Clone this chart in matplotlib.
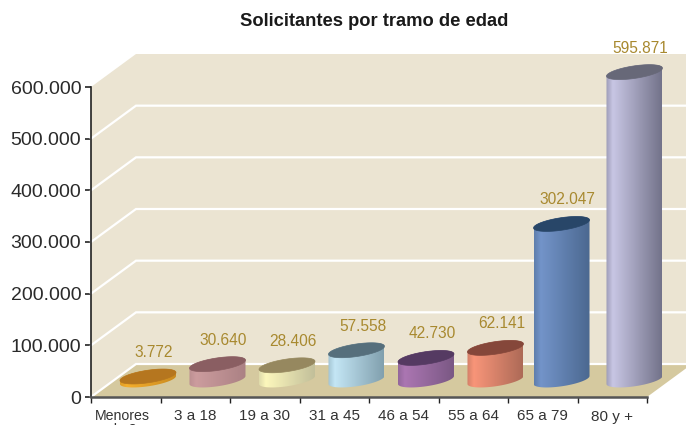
import numpy as np
import matplotlib
matplotlib.use('Agg')
import matplotlib.pyplot as plt
from matplotlib.colors import to_rgb, LinearSegmentedColormap
from matplotlib.patches import Polygon, PathPatch
from matplotlib.path import Path
from matplotlib.transforms import ScaledTranslation

plt.rcParams['font.family'] = ['Liberation Sans', 'DejaVu Sans']

categories = ['Menores\nde 3', '3 a 18', '19 a 30', '31 a 45', '46 a 54', '55 a 64', '65 a 79', '80 y +']
values = [3772, 30640, 28406, 57558, 42730, 62141, 302047, 595871]
value_labels = ['3.772', '30.640', '28.406', '57.558', '42.730', '62.141', '302.047', '595.871']
y_ticks = [0, 100000, 200000, 300000, 400000, 500000, 600000]
y_tick_labels = ['0', '100.000', '200.000', '300.000', '400.000', '500.000', '600.000']

side_light = ['#f4ae2c', '#cc9c9e', '#fcf7bc', '#c4e6f5', '#ab76b2', '#f89579', '#7394c9', '#c8c6e4']
side_dark = ['#c98a20', '#ab8184', '#c2bf9a', '#81a0ae', '#7a5884', '#ad6a57', '#4b6890', '#73738a']
top_col = ['#b5761f', '#8a5e62', '#96885f', '#566f7c', '#553a62', '#85473a', '#284668', '#676878']

fig = plt.figure(figsize=(6.86, 4.25), dpi=100)
ax = fig.add_axes([91 / 686, 28 / 425, 556 / 686, 310 / 425])
ax.set_xlim(0, 8)
ax.set_ylim(0, 600000)

# size of one pixel in data units
px = 8 / 556
py = 600000 / 310
dx = 45 * px
dy = 33 * py
right = 8 + 60 * px

# walls and floor
ax.add_patch(Polygon([(0, 0), (0, 600000), (dx, 600000 + dy), (right, 600000 + dy), (right, dy), (dx, dy)],
                     fc='#ebe4d2', ec='none', clip_on=False, zorder=0))
ax.add_patch(Polygon([(0, 0), (dx, dy), (8 + dx, dy), (8, 0)], fc='#d5c99f', ec='none', clip_on=False, zorder=1))
for t in y_ticks[:-1]:
    ax.plot([0, dx, right], [t, t + dy, t + dy], color='white', lw=1.6, clip_on=False, zorder=2,
            solid_joinstyle='miter')

# cylinders
a = 28 * px
tt = np.linspace(0, 2 * np.pi, 100)
half = np.linspace(np.pi, 2 * np.pi, 50)
upper = np.linspace(0, np.pi, 50)
for i, v in enumerate(values):
    cx = i + 0.82
    if i == 6:
        cx -= 0.05
    base = 17 * py
    # the smallest bar is still drawn as a visible disc
    top = base + max(v, 3.5 * py)
    sx = cx + a * np.cos(half)
    sy = base + (4 * np.cos(half) + 6.3 * np.sin(half)) * py
    verts = [(cx - a, top - 4 * py)] + list(zip(sx, sy)) + [(cx + a, top + 4 * py)]
    verts += list(zip(cx + a * np.cos(upper), top + (4 * np.cos(upper) + 6.3 * np.sin(upper)) * py))
    clip = PathPatch(Path(verts + [verts[0]]), fc='none', ec='none', transform=ax.transData,
                     clip_on=False, zorder=3.1)
    ax.add_patch(clip)
    left_col = 0.5 * np.array(to_rgb(side_light[i])) + 0.5 * np.array(to_rgb(side_dark[i]))
    cmap = LinearSegmentedColormap.from_list('c', [(0, left_col), (0.12, side_light[i]), (1, side_dark[i])])
    grad = np.linspace(0, 1, 128).reshape(1, -1)
    im = ax.imshow(grad, cmap=cmap, extent=(cx - a, cx + a, base - 10 * py, top + 10 * py),
                   aspect='auto', zorder=3, interpolation='bilinear')
    im.set_clip_path(clip)
    im.set_clip_box(fig.bbox)
    ax.fill(cx + a * np.cos(tt), top + (4 * np.cos(tt) + 6.3 * np.sin(tt)) * py,
            color=top_col[i], lw=0.5, clip_on=False, zorder=4)
    ax.annotate(value_labels[i], (cx, top), xytext=(6, 24), textcoords='offset pixels', ha='center', va='center',
                color='#a8892f', fontsize=11.2, annotation_clip=False, zorder=5)

ax.set_xlim(0, 8)
ax.set_ylim(0, 600000)

for s in ['top', 'right']:
    ax.spines[s].set_visible(False)
ax.spines['left'].set_color('#222222')
ax.spines['left'].set_linewidth(1.2)
ax.spines['bottom'].set_color('#555555')
ax.spines['bottom'].set_linewidth(1.8)
ax.set_zorder(2)
ax.patch.set_visible(False)

ax.set_yticks(y_ticks)
ax.set_yticklabels(y_tick_labels, fontsize=14, color='#2a2a2a')
ax.set_xticks(range(9))
ax.set_xticklabels([])
ax.set_xticks(np.arange(8) + 0.5, minor=True)
ax.set_xticklabels(categories, minor=True, fontsize=11, color='#333333', linespacing=0.95)
ax.tick_params(axis='x', which='minor', length=0, pad=9)
ax.tick_params(axis='x', which='major', length=4, width=1, color='#222222')
ax.tick_params(axis='y', length=4, width=1.2, color='#222222', pad=3)

# first label sits a bit left of its slot
lab0 = ax.get_xticklabels(minor=True)[0]
lab0.set_fontsize(10.2)
lab0.set_transform(lab0.get_transform() + ScaledTranslation(-3 / 100, 0, fig.dpi_scale_trans))

fig.text(374.5 / 686, 1 - 21 / 425, 'Solicitantes por tramo de edad', ha='center', va='center',
         fontsize=13.2, fontweight='bold', color='#1a1a1a')

fig.savefig('out.png', dpi=100)
